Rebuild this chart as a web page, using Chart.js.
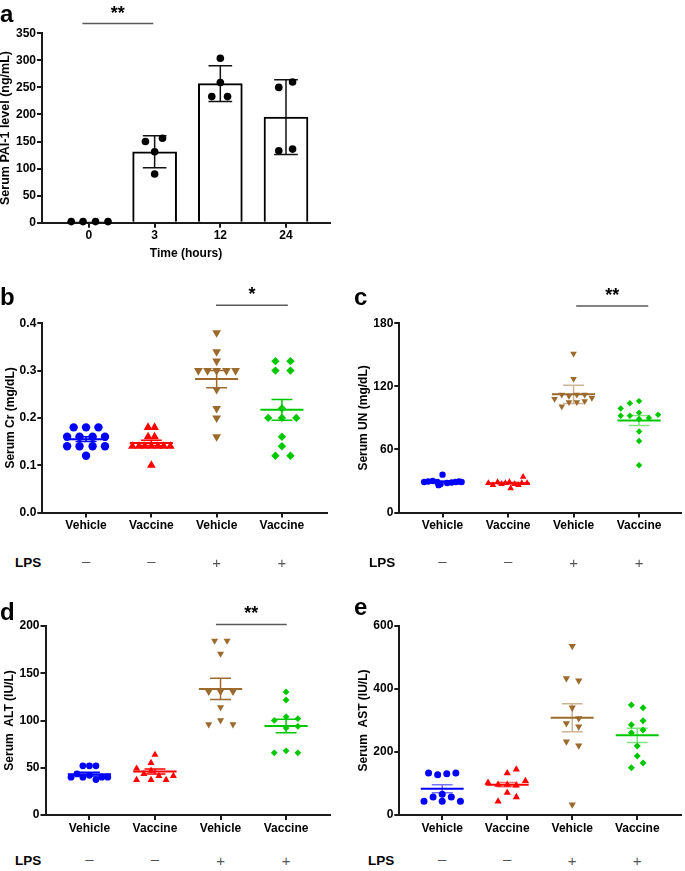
<!DOCTYPE html>
<html><head><meta charset="utf-8">
<script src="https://cdn.jsdelivr.net/npm/chart.js@4.4.1/dist/chart.umd.min.js"></script>
<style>
html,body{margin:0;padding:0;background:#fff;}
#fig{position:relative;width:685px;height:871px;overflow:hidden;background:#fff;font-family:"Liberation Sans",Arial,Helvetica,sans-serif;-webkit-font-smoothing:antialiased;}
#fig canvas{position:absolute;}
.txt{position:absolute;white-space:nowrap;line-height:1;color:#000;}
</style></head><body><div id="fig"></div>
<script>
// ---------------- DATA ----------------
// Panel a: serum PAI-1 over time
const timeLabels = ['0', '3', '12', '24'];
const paiMean = [2, 131, 257, 195];
const paiSD = [0, 29.5, 33, 69];
const paiValues = [[2, 2, 2, 2], [150, 156, 131, 90], [304, 259, 233, 233], [250, 260, 133, 136]];
const paiJitter = [[-0.27, -0.09, 0.1, 0.29], [-0.14, 0.12, 0, 0], [0, 0, -0.13, 0.11], [-0.11, 0.1, -0.11, 0.1]];

// Groups for panels b-e
const groupLabels = ['Vehicle', 'Vaccine', 'Vehicle', 'Vaccine'];
const lpsSigns = ['\u2013', '\u2013', '+', '+'];

// Panel b: Serum Cr (mg/dL)
const crValues = [
  [0.18, 0.18, 0.18, 0.16, 0.16, 0.16, 0.16, 0.14, 0.14, 0.14, 0.14, 0.12],
  [0.18, 0.18, 0.16, 0.16, 0.14, 0.14, 0.14, 0.14, 0.14, 0.14, 0.14, 0.10],
  [0.38, 0.34, 0.32, 0.30, 0.30, 0.30, 0.30, 0.30, 0.26, 0.22, 0.20, 0.16],
  [0.32, 0.32, 0.30, 0.30, 0.22, 0.20, 0.20, 0.20, 0.16, 0.14, 0.12, 0.12]];
const crJitter = [
  [-0.19, 0, 0.19, -0.29, -0.1, 0.1, 0.29, -0.29, -0.1, 0.1, 0.29, 0],
  [-0.05, 0.05, -0.05, 0.05, -0.29, -0.19, -0.1, 0, 0.1, 0.19, 0.29, 0],
  [0, 0, 0, -0.28, -0.14, 0, 0.15, 0.29, 0, 0, 0, 0],
  [-0.1, 0.13, -0.1, 0.13, 0, -0.21, 0, 0.22, 0, 0, -0.1, 0.13]];
const crMean = [0.155, 0.147, 0.282, 0.217];
const crSEM = [0.005, 0.0055, 0.018, 0.022];

// Panel c: Serum UN (mg/dL)
const unValues = [
  [29, 29.5, 30, 29, 27, 36, 26, 28, 28.5, 29, 29.5, 29],
  [28, 26, 29, 27, 28, 29, 23, 27, 26, 28, 34, 28],
  [151, 127, 108, 112, 111, 112, 112, 109, 105, 105, 106, 101],
  [106, 104, 99, 95, 92, 92, 89, 90, 93, 77, 68, 45]];
const unJitter = [
  [-0.28, -0.22, -0.15, -0.08, -0.03, 0, -0.06, 0.07, 0.14, 0.2, 0.25, 0.29],
  [-0.3, -0.23, -0.16, -0.1, -0.04, 0.02, 0.04, 0.1, 0.16, 0.21, 0.23, 0.29],
  [0, 0, -0.29, -0.18, -0.07, 0.05, 0.17, 0.28, -0.07, 0.05, 0.17, -0.18],
  [0, -0.14, -0.28, 0, -0.28, -0.14, 0, 0.15, 0.29, 0, 0, 0]];
const unMean = [29.2, 27.8, 112.4, 87.5];
const unSEM = [0.9, 0.9, 8.7, 4.7];

// Panel d: Serum ALT (IU/L)
const altValues = [
  [52, 52, 52, 43.5, 42, 40, 40, 40, 40, 37.5],
  [63.7, 55.2, 49.2, 47, 43.5, 41.4, 41.4, 37.2, 37.2, 37.2],
  [184.4, 184.4, 170.6, 130.2, 130.2, 130.2, 114, 100.1, 95.9, 95.9],
  [130.2, 121.7, 104, 100.1, 101.9, 92, 93.8, 65.8, 67.9, 65.8]];
const altJitter = [
  [-0.1, 0, 0.1, -0.19, 0, -0.28, -0.1, 0.19, 0.28, 0.1],
  [0, -0.06, -0.28, -0.06, -0.17, 0.06, 0.28, -0.28, -0.06, 0.17],
  [-0.09, 0.1, 0, -0.18, 0, 0.19, 0, 0, -0.18, 0.19],
  [0, 0, 0, -0.18, 0.18, 0, 0.18, -0.18, 0, 0.18]];
const altMean = [43.2, 46, 133.4, 94.1];
const altSEM = [2, 2.7, 11.2, 7.1];

// Panel e: Serum AST (IU/L)
const astValues = [
  [133, 128, 131, 133, 65.6, 57, 57, 43.4, 43.4, 43.4],
  [145, 133, 102.6, 108, 96.3, 96.3, 94.2, 71, 43.4, 57],
  [536.5, 433.9, 426.5, 340.7, 306.9, 291, 280.4, 232.8, 220.1, 32.8],
  [349, 340.7, 299.5, 286.8, 261.4, 269.8, 219, 187.3, 165, 150.3]];
const astJitter = [
  [-0.21, -0.07, 0.07, 0.21, 0, -0.14, 0.14, -0.28, 0, 0.28],
  [0.14, 0, -0.295, 0.28, -0.14, 0, 0.14, 0, -0.14, 0.14],
  [0, -0.09, 0.1, 0, 0.1, -0.09, 0.1, -0.09, 0.1, 0],
  [-0.09, 0.09, 0.09, -0.09, -0.09, 0.09, 0, 0, 0.09, -0.09]];
const astMean = [83.6, 96.3, 309, 252.9];
const astSEM = [12.7, 7, 44.4, 22.8];

// ---------------- STYLE ----------------
const FONT = '"Liberation Sans", Arial, Helvetica, sans-serif';
const groupColors = ['#0000ff', '#ff0000', '#9b6a2c', '#00c800'];
const groupColorsLight = ['rgba(0,0,255,0.55)', 'rgba(255,0,0,0.55)', 'rgba(155,106,44,0.5)', 'rgba(0,200,0,0.5)'];
const groupStyles = ['circle', 'triangle', 'triangle', 'rectRot'];
const groupRot = [0, 0, 180, 0];
const sizeMult = [1, 1.2, 1.2, 1.0];
const AXIS = '#1a1a1a';
const TICK_SIZE = 12;
const TITLE_SIZE = 12;

Chart.defaults.font.family = FONT;
Chart.defaults.font.weight = 'bold';
Chart.defaults.color = '#000';
Chart.defaults.animation = false;
Chart.defaults.responsive = false;
Chart.defaults.plugins.legend.display = false;
Chart.defaults.plugins.tooltip.enabled = false;

function drawErr(chart, o, withMean) {
  const ctx = chart.ctx, x = chart.scales.x, y = chart.scales.y;
  ctx.save();
  ctx.lineCap = 'butt';
  o.means.forEach((m, i) => {
    const cx = x.getPixelForValue(i);
    if (o.errs[i] > 0) {
      const y1 = y.getPixelForValue(m + o.errs[i]), y2 = y.getPixelForValue(m - o.errs[i]);
      const cw = x.getPixelForValue(i + o.capHalf) - cx;
      ctx.strokeStyle = o.errColors[i];
      ctx.lineWidth = o.lw;
      ctx.beginPath();
      ctx.moveTo(cx, y1); ctx.lineTo(cx, y2);
      ctx.moveTo(cx - cw, y1); ctx.lineTo(cx + cw, y1);
      ctx.moveTo(cx - cw, y2); ctx.lineTo(cx + cw, y2);
      ctx.stroke();
    }
    if (withMean) {
      const ym = y.getPixelForValue(m);
      const mw = x.getPixelForValue(i + o.meanHalf) - cx;
      ctx.strokeStyle = o.colors[i];
      ctx.lineWidth = o.meanLw;
      ctx.beginPath(); ctx.moveTo(cx - mw, ym); ctx.lineTo(cx + mw, ym); ctx.stroke();
    }
  });
  ctx.restore();
}
function drawSig(chart, s) {
  const ctx = chart.ctx, x = chart.scales.x, y = chart.scales.y;
  const x1 = x.getPixelForValue(s.from), x2 = x.getPixelForValue(s.to), yy = y.getPixelForValue(s.y);
  ctx.save();
  ctx.strokeStyle = '#5a5a5a'; ctx.lineWidth = 1.5;
  ctx.beginPath(); ctx.moveTo(x1, yy); ctx.lineTo(x2, yy); ctx.stroke();
  ctx.fillStyle = '#000'; ctx.font = 'bold 18px ' + FONT;
  ctx.textAlign = 'center'; ctx.textBaseline = 'alphabetic';
  ctx.fillText(s.text, (x1 + x2) / 2, yy - 5);
  ctx.restore();
}
const decor = {
  id: 'decor',
  afterDatasetDraw(chart, args, o) { if (o.kind === 'bar' && args.meta.type === 'bar') drawErr(chart, o, false); },
  afterDatasetsDraw(chart, args, o) { if (o.kind === 'scatter') drawErr(chart, o, true); },
  afterDraw(chart, args, o) { if (o.sig) drawSig(chart, o.sig); }
};
Chart.register(decor);

const fig = document.getElementById('fig');
function addText(text, left, top, size, weight, color, boxWidth) {
  const d = document.createElement('div');
  d.className = 'txt';
  d.textContent = text;
  d.style.top = top + 'px';
  d.style.fontSize = size + 'px'; d.style.fontWeight = weight; d.style.color = color;
  if (boxWidth) {
    d.style.width = boxWidth + 'px'; d.style.textAlign = 'center';
    d.style.left = (left - boxWidth / 2) + 'px';
  } else {
    d.style.left = left + 'px';
  }
  fig.appendChild(d);
  return d;
}

function makeScales(p) {
  const xLabels = p.xLabels;
  return {
    x: {
      type: 'linear', position: 'bottom', min: p.xr[0], max: p.xr[1], offset: false,
      afterBuildTicks: s => { s.ticks = xLabels.map((_, i) => ({ value: i })); },
      afterFit: s => { s.height = p.H - p.area.b; },
      ticks: { callback: v => xLabels[v] !== undefined ? xLabels[v] : '', font: { size: TICK_SIZE, weight: 'bold' }, color: '#000', padding: 1, autoSkip: false, maxRotation: 0, minRotation: 0 },
      grid: { drawOnChartArea: false, drawTicks: true, tickLength: 5, color: AXIS, lineWidth: 2, offset: false },
      border: { color: AXIS, width: 2 },
      title: p.xTitle ? { display: true, text: p.xTitle, font: { size: TITLE_SIZE, weight: 'bold' }, color: '#000', padding: { top: 0, bottom: p.xTitlePad } } : { display: false }
    },
    y: {
      type: 'linear', position: 'left', min: p.yr[0], max: p.yr[1],
      afterFit: s => { s.width = p.area.l; },
      ticks: { stepSize: p.step, callback: p.fmt, font: { size: TICK_SIZE, weight: 'bold' }, color: '#000', padding: 1 },
      grid: { drawOnChartArea: false, drawTicks: true, tickLength: 5, color: AXIS, lineWidth: 2 },
      border: { color: AXIS, width: 2 },
      title: { display: true, text: p.yTitle, font: { size: p.yTitleSize || TITLE_SIZE, weight: 'bold' }, color: '#000', padding: { top: p.yTitlePad, bottom: 0 } }
    }
  };
}
function makeCanvas(p) {
  const c = document.createElement('canvas');
  c.width = p.W; c.height = p.H;
  c.style.left = p.left + 'px'; c.style.top = p.top + 'px';
  c.style.width = p.W + 'px'; c.style.height = p.H + 'px';
  fig.appendChild(c);
  return c;
}
function layoutPad(p) { return { padding: { left: 0, top: p.area.t, right: p.W - p.area.r, bottom: 0 } }; }

// ---------------- PANEL a ----------------
const pa = { left: 0, top: 0, W: 345, H: 270, area: { l: 42, t: 33.3, r: 330, b: 222.7 }, xr: [-0.715, 3.67], yr: [0, 350], step: 50,
  fmt: v => String(v), xLabels: timeLabels, xTitle: 'Time (hours)', xTitlePad: 9, yTitle: 'Serum PAI-1 level (ng/mL)', yTitlePad: -1.5, yTitleSize: 12.5 };
const chartA = new Chart(makeCanvas(pa), {
  type: 'bar',
  data: { datasets: [
    { type: 'bar', data: paiMean.map((m, i) => ({ x: i, y: m })), backgroundColor: '#ffffff', borderColor: '#000', borderWidth: 2, barThickness: 44, order: 2 },
    { type: 'scatter', data: paiValues.flatMap((vals, g) => vals.map((v, i) => ({ x: g + paiJitter[g][i], y: v }))),
      pointStyle: 'circle', radius: 3.8, backgroundColor: '#000', borderColor: '#000', borderWidth: 0, clip: false, order: 1 }
  ] },
  options: { layout: layoutPad(pa), scales: makeScales(pa),
    plugins: { decor: { kind: 'bar', means: paiMean, errs: paiSD, colors: ['#000','#000','#000','#000'], errColors: ['#111','#111','#111','#111'], capHalf: 0.18, lw: 1.5,
      sig: { from: -0.1, to: 0.98, y: 368, text: '**' } } } }
});

// ---------------- PANELS b-e ----------------
function scatterPanel(p, values, jitter, means, sems, radius, errColors, sig) {
  const datasets = values.map((vals, g) => ({
    type: 'scatter', data: vals.map((v, i) => ({ x: g + jitter[g][i], y: v })),
    pointStyle: groupStyles[g], rotation: groupRot[g], radius: radius * sizeMult[g],
    backgroundColor: groupColors[g], borderColor: groupColors[g], borderWidth: 0, clip: false, order: 1
  }));
  return new Chart(makeCanvas(p), {
    type: 'scatter',
    data: { datasets },
    options: { layout: layoutPad(p), scales: makeScales(p),
      plugins: { decor: { kind: 'scatter', means, errs: sems, colors: groupColors, errColors, capHalf: 0.16, meanHalf: 0.33, lw: 1.5, meanLw: 2, sig } } }
  });
}
const pb = { left: 0, top: 280, W: 340, H: 260, area: { l: 42.3, t: 43.3, r: 327, b: 232.5 }, xr: [-0.67, 3.69], yr: [0, 0.4], step: 0.1,
  fmt: v => v.toFixed(1), xLabels: groupLabels, yTitle: 'Serum Cr (mg/dL)', yTitlePad: 3.4 };
const pc = { left: 340, top: 280, W: 345, H: 260, area: { l: 59.3, t: 43.3, r: 341, b: 232.5 }, xr: [-0.66, 3.64], yr: [0, 180], step: 60,
  fmt: v => String(Math.round(v)), xLabels: groupLabels, yTitle: 'Serum UN (mg/dL)', yTitlePad: 16.4 };
const pd = { left: 0, top: 570, W: 340, H: 270, area: { l: 45.5, t: 56, r: 330, b: 245 }, xr: [-0.67, 3.67], yr: [0, 200], step: 50,
  fmt: v => String(Math.round(v)), xLabels: groupLabels, yTitle: 'Serum  ALT (IU/L)', yTitlePad: 2.4 };
const pe = { left: 340, top: 570, W: 345, H: 270, area: { l: 59.3, t: 56, r: 343, b: 245 }, xr: [-0.66, 3.67], yr: [0, 600], step: 200,
  fmt: v => String(Math.round(v)), xLabels: groupLabels, yTitle: 'Serum  AST (IU/L)', yTitlePad: 16.4 };

const chartB = scatterPanel(pb, crValues, crJitter, crMean, crSEM, 4.2, groupColors, { from: 1.99, to: 3.09, y: 0.438, text: '*' });
const chartC = scatterPanel(pc, unValues, unJitter, unMean, unSEM, 3.2, groupColorsLight, { from: 2.04, to: 3.14, y: 196.5, text: '**' });
const chartD = scatterPanel(pd, altValues, altJitter, altMean, altSEM, 3.4, groupColors, { from: 1.93, to: 3.01, y: 201.6, text: '**' });
const chartE = scatterPanel(pe, astValues, astJitter, astMean, astSEM, 3.5, groupColorsLight, null);

// ---------------- TEXT OVERLAYS ----------------
addText('a', 0, 1.5, 24, 'bold', '#000');
addText('b', 0, 285, 24, 'bold', '#000');
addText('c', 354, 285, 24, 'bold', '#000');
addText('d', 0, 600, 24, 'bold', '#000');
addText('e', 354, 595, 24, 'bold', '#000');

function lpsRow(chart, p, lpsLeft, centerY) {
  addText('LPS', lpsLeft, centerY - 6.6, 13.5, 'bold', '#000');
  lpsSigns.forEach((s, i) => {
    const px = p.left + chart.scales.x.getPixelForValue(i);
    const dy = s === '+' ? 8.5 : 10;
    addText(s, px, centerY - dy, 15, 'normal', '#555', 30);
  });
}
lpsRow(chartB, pb, 15, 563);
lpsRow(chartC, pc, 369, 563);
lpsRow(chartD, pd, 15, 861);
lpsRow(chartE, pe, 368, 861);
</script>
</body></html>
